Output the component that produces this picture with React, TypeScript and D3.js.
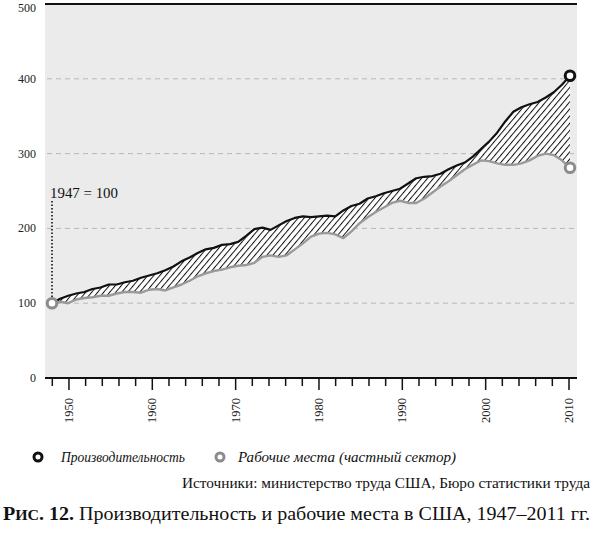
import { useMemo } from "react";
import * as d3 from "d3";

// Индекс, 1947 = 100
const years = d3.range(1947, 2012);

const productivity = [
  100, 106, 110, 113, 115, 119, 121, 125, 125, 128, 130, 134, 137, 140, 144, 149, 156, 161, 167, 172,
  174, 178, 179, 182, 190, 199, 201, 198, 204, 210, 214, 216, 215, 216, 217, 216, 224, 230, 233, 240,
  243, 247, 250, 253, 260, 267, 269, 270, 273, 279, 284, 288, 296, 306, 316, 328, 343, 356, 362, 366,
  369, 375, 382, 392, 404,
];

const jobs = [
  100, 102, 100, 105, 107, 108, 110, 110, 113, 115, 115, 114, 118, 119, 117, 121, 125, 130, 136, 140,
  143, 145, 148, 150, 151, 154, 162, 164, 162, 164, 172, 180, 189, 193, 194, 192, 187, 196, 207, 215,
  222, 228, 234, 237, 234, 234, 240, 248, 256, 263, 271, 279, 285, 291, 290, 287, 285, 285, 287, 291,
  297, 300, 298, 291, 281,
];

const yTicks = [0, 100, 200, 300, 400, 500];
const tickYears = d3.range(1948, 2011, 2);
const decadeLabels = [1950, 1960, 1970, 1980, 1990, 2000, 2010];

const SERIF = "'Liberation Serif', 'DejaVu Serif', serif";
const PLOT_L = 45;
const PLOT_R = 577;

export default function App() {
  const y = d3.scaleLinear().domain([0, 500]).range([378, 4]);
  // ось подписана по чётным годам, точки данных растянуты на ту же ширину
  const xAxis = d3.scaleLinear().domain([1948, 2010]).range([52.3, 569]);
  const x = d3.scaleLinear().domain([1947, 2011]).range([52, 570]);

  const paths = useMemo(() => {
    const pts = years.map((yr, i) => ({ yr, p: productivity[i], j: jobs[i] }));
    const lineP = d3.line<(typeof pts)[0]>().x((d) => x(d.yr)).y((d) => y(d.p));
    const lineJ = d3.line<(typeof pts)[0]>().x((d) => x(d.yr)).y((d) => y(d.j));
    const area = d3
      .area<(typeof pts)[0]>()
      .x((d) => x(d.yr))
      .y0((d) => y(d.j))
      .y1((d) => y(d.p));
    return { p: lineP(pts) ?? "", j: lineJ(pts) ?? "", a: area(pts) ?? "" };
  }, []);

  const last = years.length - 1;

  return (
    <svg
      width={593}
      height={539}
      style={{ position: "absolute", left: 0, top: 0, background: "#fff" }}
      fontFamily={SERIF}
    >
      <defs>
        <pattern id="hatch" width={4.6} height={4.6} patternUnits="userSpaceOnUse" patternTransform="rotate(40)">
          <rect width={4.6} height={4.6} fill="#fff" />
          <line x1={0.5} y1={0} x2={0.5} y2={4.6} stroke="#111" strokeWidth={1} />
        </pattern>
      </defs>

      <rect x={PLOT_L} y={4} width={PLOT_R - PLOT_L} height={374} fill="#ebebeb" />

      {yTicks
        .filter((t) => t > 0 && t < 500)
        .map((t) => (
          <line
            key={t}
            x1={PLOT_L + 2}
            x2={PLOT_R}
            y1={y(t)}
            y2={y(t)}
            stroke="#b8b8b8"
            strokeWidth={1}
            strokeDasharray="5 4"
          />
        ))}
      <line x1={PLOT_L} x2={PLOT_R} y1={y(500)} y2={y(500)} stroke="#111" strokeWidth={2} />

      {yTicks.map((t) => (
        <text
          key={t}
          x={36}
          y={t === 500 ? 8.5 : y(t)}
          dy="0.33em"
          textAnchor="end"
          fontSize={12}
          fill="#222"
        >
          {t}
        </text>
      ))}

      {/* отметка 1947 = 100 */}
      <line
        x1={x(1947)}
        x2={x(1947)}
        y1={201}
        y2={y(100) - 6}
        stroke="#111"
        strokeWidth={1.6}
        strokeDasharray="1.5 2"
      />
      <text x={50} y={198} fontSize={14} fill="#111" textLength={68} lengthAdjust="spacingAndGlyphs">
        1947 = 100
      </text>

      <path d={paths.a} fill="url(#hatch)" />
      <path d={paths.j} fill="none" stroke="#9a9a9a" strokeWidth={2.4} strokeLinejoin="round" />
      <path d={paths.p} fill="none" stroke="#111" strokeWidth={2.2} strokeLinejoin="round" />

      <circle cx={x(1947)} cy={y(jobs[0])} r={4.8} fill="#fff" stroke="#8c8c8c" strokeWidth={3} />
      <circle cx={x(years[last])} cy={y(productivity[last])} r={4.8} fill="#fff" stroke="#111" strokeWidth={3} />
      <circle cx={x(years[last])} cy={y(jobs[last])} r={4.8} fill="#fff" stroke="#8c8c8c" strokeWidth={3} />

      {/* ось X */}
      <line x1={PLOT_L} x2={PLOT_R} y1={378} y2={378} stroke="#111" strokeWidth={2} />
      {tickYears.map((yr) => {
        const major = decadeLabels.includes(yr);
        return (
          <line
            key={yr}
            x1={xAxis(yr)}
            x2={xAxis(yr)}
            y1={378}
            y2={major ? 390 : 386}
            stroke="#111"
            strokeWidth={1.5}
          />
        );
      })}
      {decadeLabels.map((yr) => (
        <text
          key={yr}
          transform={`translate(${xAxis(yr)},398) rotate(-90)`}
          dy="0.33em"
          textAnchor="end"
          fontSize={12.5}
          fill="#222"
        >
          {yr}
        </text>
      ))}

      {/* легенда */}
      <circle cx={38} cy={457} r={4} fill="#fff" stroke="#111" strokeWidth={3} />
      <text x={61} y={462} fontSize={15.5} fontStyle="italic" fill="#111" textLength={124} lengthAdjust="spacingAndGlyphs">
        Производительность
      </text>
      <circle cx={220} cy={457} r={4} fill="#fff" stroke="#8c8c8c" strokeWidth={3} />
      <text x={238} y={462} fontSize={15.5} fontStyle="italic" fill="#111" textLength={218} lengthAdjust="spacingAndGlyphs">
        Рабочие места (частный сектор)
      </text>

      <text x={590} y={488} fontSize={14} textAnchor="end" fill="#111" textLength={408} lengthAdjust="spacingAndGlyphs">
        Источники: министерство труда США, Бюро статистики труда
      </text>

      <text x={3} y={520} fontSize={19.5} fill="#111" textLength={587} lengthAdjust="spacingAndGlyphs">
        <tspan fontWeight="bold">Р</tspan>
        <tspan fontWeight="bold" fontSize={15.5}>ИС</tspan>
        <tspan fontWeight="bold">. 12.</tspan>
        <tspan> Производительность и рабочие места в США, 1947–2011 гг.</tspan>
      </text>
    </svg>
  );
}
